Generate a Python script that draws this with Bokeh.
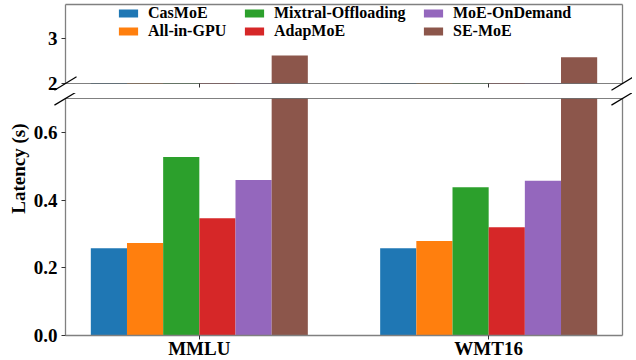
import numpy as np
from bokeh.plotting import figure
from bokeh.layouts import column
from bokeh.models import (Range1d, FixedTicker, LinearAxis, Legend, LegendItem,
                          Title, ColumnDataSource, NumeralTickFormatter)
from bokeh.embed import file_html
from bokeh.resources import INLINE

# ---------------- data ----------------
categories = ["MMLU", "WMT16"]
methods = ["CasMoE", "All-in-GPU", "Mixtral-Offloading", "AdapMoE", "MoE-OnDemand", "SE-MoE"]
casmoe = [0.258, 0.258]
all_in_gpu = [0.273, 0.279]
mixtral_offloading = [0.527, 0.438]
adapmoe = [0.346, 0.320]
moe_ondemand = [0.459, 0.457]
se_moe = [2.62, 2.58]
series = [casmoe, all_in_gpu, mixtral_offloading, adapmoe, moe_ondemand, se_moe]
colors = ["#1f77b4", "#ff7f0e", "#2ca02c", "#d62728", "#9467bd", "#8c564b"]
bottom_ticks = [0.0, 0.2, 0.4, 0.6]
top_ticks = [2, 3]
y_label = "Latency (s)"

FONT = "Liberation Serif"
BAR_W = 0.125
x_base = np.arange(len(categories))
X_RANGE = (-0.4625, 1.4625)
TOP_RANGE = (2.0, 3.75)
BOT_RANGE = (0.0, 0.70)
SPINE = "#808080"


def make_fig(frame_h, yr, min_top, min_bottom):
    f = figure(frame_width=557, frame_height=frame_h,
               x_range=Range1d(*X_RANGE), y_range=Range1d(*yr),
               output_backend="svg", toolbar_location=None,
               x_axis_location=None, y_axis_location=None,
               min_border_left=65, min_border_right=10,
               min_border_top=min_top, min_border_bottom=min_bottom)
    f.outline_line_color = None
    f.background_fill_color = "white"
    f.border_fill_color = "white"
    f.xgrid.visible = False
    f.ygrid.visible = False
    return f


def plain_axis(color=SPINE, dash="solid", ticks=None, tick_out=0):
    ax = LinearAxis(ticker=FixedTicker(ticks=ticks or []))
    ax.axis_line_color = color
    ax.axis_line_width = 1.3 if dash == "solid" else 1
    ax.axis_line_dash = dash
    ax.major_tick_out = tick_out
    ax.major_tick_in = 0
    ax.major_tick_line_color = "#333333"
    ax.minor_tick_line_color = None
    ax.major_label_text_font_size = "1px"
    ax.major_label_text_color = None
    ax.major_label_standoff = 0
    return ax


def y_axis(ticks, fmt):
    ax = LinearAxis(ticker=FixedTicker(ticks=ticks), formatter=NumeralTickFormatter(format=fmt))
    ax.axis_line_color = SPINE
    ax.axis_line_width = 1.3
    ax.major_tick_out = 4
    ax.major_tick_in = 0
    ax.major_tick_line_color = "#333333"
    ax.minor_tick_line_color = None
    ax.major_label_text_font = FONT
    ax.major_label_text_font_style = "bold"
    ax.major_label_text_font_size = "19px"
    ax.major_label_text_color = "black"
    ax.major_label_standoff = 4
    return ax


top = make_fig(79, TOP_RANGE, 4, 10)
bot = make_fig(237, BOT_RANGE, 5, 4)

renderers = []
for i, (name, vals, col) in enumerate(zip(methods, series, colors)):
    xs = x_base + (i - (len(methods) - 1) / 2) * BAR_W
    src = ColumnDataSource(dict(x=xs, top=vals))
    r = top.vbar(x="x", top="top", bottom=0, width=BAR_W, source=src,
                 fill_color=col, line_color=None)
    bot.vbar(x="x", top="top", bottom=0, width=BAR_W, source=src,
             fill_color=col, line_color=None)
    renderers.append(r)

# axes of top panel
top.add_layout(y_axis(top_ticks, "0"), "left")
top.add_layout(plain_axis(), "right")
top.add_layout(plain_axis(), "above")
top.add_layout(plain_axis(color="black", dash="1 1", ticks=list(x_base), tick_out=4), "below")

# axes of bottom panel
bot.add_layout(y_axis(bottom_ticks, "0.0"), "left")
bot.add_layout(plain_axis(), "right")
bot.add_layout(plain_axis(color="black", dash="1 1"), "above")
xax = LinearAxis(ticker=FixedTicker(ticks=list(x_base)),
                 major_label_overrides={int(k): c for k, c in zip(x_base, categories)})
xax.axis_line_color = SPINE
xax.axis_line_width = 1.3
xax.major_tick_out = 4
xax.major_tick_in = 0
xax.major_tick_line_color = "#333333"
xax.minor_tick_line_color = None
xax.major_label_text_font = FONT
xax.major_label_text_font_style = "bold"
xax.major_label_text_font_size = "19px"
xax.major_label_text_color = "black"
xax.major_label_standoff = -2
bot.add_layout(xax, "below")

# y label (placed so that it is centred on the whole figure)
bot.add_layout(Title(text=y_label, align="right", offset=25, standoff=4,
                     text_font=FONT, text_font_style="bold", text_font_size="19px",
                     text_color="black"), "left")

# legend: three columns of two items
legend_pos = [(51, 43), (177, 43), (356, 43)]
for c in range(3):
    items = [LegendItem(label=methods[2 * c + k], renderers=[renderers[2 * c + k]]) for k in range(2)]
    lg = Legend(items=items, location=legend_pos[c], orientation="vertical")
    lg.glyph_width = 24
    lg.glyph_height = 10
    lg.label_height = 10
    lg.label_standoff = 8
    lg.spacing = -6
    lg.padding = 0
    lg.margin = 0
    lg.border_line_color = None
    lg.background_fill_alpha = 0
    lg.label_text_font = FONT
    lg.label_text_font_style = "bold"
    lg.label_text_font_size = "16px"
    lg.label_text_color = "black"
    top.add_layout(lg, "center")

# break marks (drawn on the overlay level so they may cross the frame edge)
dx = 0.0198 * (X_RANGE[1] - X_RANGE[0])
dy_top = 0.085 * (TOP_RANGE[1] - TOP_RANGE[0])
dy_bot = 0.028 * (BOT_RANGE[1] - BOT_RANGE[0])
edges = list(X_RANGE)
top.segment(x0=[e - dx for e in edges], x1=[e + dx for e in edges],
            y0=[TOP_RANGE[0] - dy_top] * 2, y1=[TOP_RANGE[0] + dy_top] * 2,
            line_color="black", line_width=1.2, level="overlay")
bot.segment(x0=[e - dx for e in edges], x1=[e + dx for e in edges],
            y0=[BOT_RANGE[1] - dy_bot] * 2, y1=[BOT_RANGE[1] + dy_bot] * 2,
            line_color="black", line_width=1.2, level="overlay")

p = column(top, bot)

open("out.html", "w").write(file_html(p, INLINE))
